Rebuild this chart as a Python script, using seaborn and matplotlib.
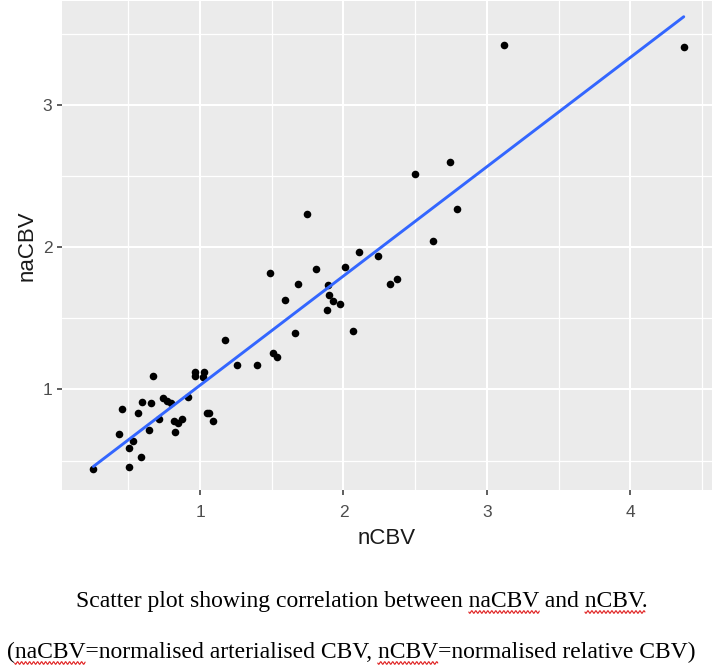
import numpy as np
import pandas as pd
import matplotlib
matplotlib.use("Agg")
import matplotlib.pyplot as plt
from matplotlib.lines import Line2D
import seaborn as sns

# values
ncbv = [0.256, 0.505, 0.586, 0.505, 0.530, 0.433, 0.453, 0.567, 0.595, 0.660,
        0.670, 0.642, 0.714, 0.742, 0.772, 0.798, 0.821, 0.828, 0.844, 0.872,
        0.914, 0.963, 0.963, 1.028, 1.018, 1.047, 1.063, 1.091,
        1.174, 1.256, 1.396, 1.507, 1.539, 1.489, 1.593, 1.665, 1.686, 1.809,
        1.884, 1.891, 1.896, 1.930, 1.979, 2.012, 2.063, 2.105, 2.244,
        1.749, 2.321, 2.375, 2.500, 2.624, 2.740, 2.793, 3.117, 4.373]
nacbv = [0.443, 0.452, 0.525, 0.586, 0.637, 0.684, 0.860, 0.832, 0.913, 0.902,
         1.095, 0.714, 0.794, 0.937, 0.916, 0.902, 0.778, 0.702, 0.761, 0.789,
         0.944, 1.124, 1.093, 1.124, 1.089, 0.832, 0.832, 0.778,
         1.346, 1.175, 1.175, 1.253, 1.229, 1.818, 1.627, 1.397, 1.744, 1.849,
         1.556, 1.737, 1.667, 1.622, 1.599, 1.860, 1.409, 1.966, 1.935,
         2.230, 1.744, 1.779, 2.513, 2.041, 2.597, 2.270, 3.418, 3.407]

x_ticks = [1, 2, 3, 4]
y_ticks = [1, 2, 3]
caption_1 = "Scatter plot showing correlation between naCBV and nCBV."
caption_2 = "(naCBV=normalised arterialised CBV, nCBV=normalised relative CBV)"
misspelled = ["naCBV", "nCBV"]

df = pd.DataFrame({"nCBV": ncbv, "naCBV": nacbv})

sns.set_theme(style="darkgrid", rc={
    "axes.facecolor": "#EBEBEB",
    "grid.color": "white",
    "axes.edgecolor": "#EBEBEB",
})
plt.rcParams["font.family"] = ["Liberation Sans", "DejaVu Sans"]

fig = plt.figure(figsize=(7.14, 6.7), dpi=100)
ax = fig.add_axes([62 / 714, 1 - 490 / 670, 650 / 714, 489 / 670])

sns.regplot(data=df, x="nCBV", y="naCBV", ci=None, ax=ax,
            scatter_kws={"color": "black", "s": 30, "alpha": 1, "linewidths": 0},
            line_kws={"color": "#3366FF", "linewidth": 2.1})

ax.set_xlim(0.037, 4.57)
ax.set_ylim(0.293, 3.73)
ax.set_xticks(x_ticks)
ax.set_yticks(y_ticks)
ax.set_xticks([0.5, 1.5, 2.5, 3.5, 4.5], minor=True)
ax.set_yticks([0.5, 1.5, 2.5, 3.5], minor=True)
ax.grid(which="major", color="white", linewidth=1.5)
ax.grid(which="minor", color="white", linewidth=0.9)
for sp in ax.spines.values():
    sp.set_visible(False)

ax.tick_params(axis="both", which="major", length=3.6, width=1.1, color="#333333",
               labelsize=12.5, labelcolor="#4D4D4D", bottom=True, left=True)
ax.tick_params(axis="x", which="major", pad=7)
ax.tick_params(axis="y", which="major", pad=3.4)
ax.tick_params(which="minor", length=0)

ax.set_xlabel("nCBV", fontsize=16, color="#1A1A1A")
ax.set_ylabel("naCBV", fontsize=16, color="#1A1A1A")
ax.xaxis.set_label_coords(0.5, -0.111)
ax.xaxis.label.set_va("baseline")
ax.yaxis.set_label_coords(-0.054, 0.5)
ax.yaxis.label.set_va("center")

# caption with spell-check squiggles
serif = ["Liberation Serif", "DejaVu Serif"]
cap_size = 17.0
fig.canvas.draw()
renderer = fig.canvas.get_renderer()


def text_width(s):
    t = fig.text(0, 0, s, family=serif, fontsize=cap_size)
    w = t.get_window_extent(renderer).width
    t.remove()
    return w


def caption(cx, y_px, text):
    fig.text(cx / 714, 1 - y_px / 670, text, family=serif, fontsize=cap_size,
             ha="center", va="baseline", color="black")
    left = cx - text_width(text) / 2
    for word in misspelled:
        start = 0
        while True:
            i = text.find(word, start)
            if i < 0:
                break
            if i > 0 and text[i - 1].isalpha():
                start = i + 1
                continue
            x0 = left + text_width(text[:i])
            x1 = x0 + text_width(word)
            xs = np.arange(x0, x1, 0.5)
            ys = (y_px + 5) + 1.3 * np.sin(2 * np.pi * (xs - x0) / 4.0)
            fig.add_artist(Line2D(xs / 714, 1 - ys / 670, color="#E02020",
                                  linewidth=0.8, transform=fig.transFigure))
            start = i + len(word)


caption(362, 607, caption_1)
caption(351, 658, caption_2)

fig.savefig("out.png", dpi=100)
